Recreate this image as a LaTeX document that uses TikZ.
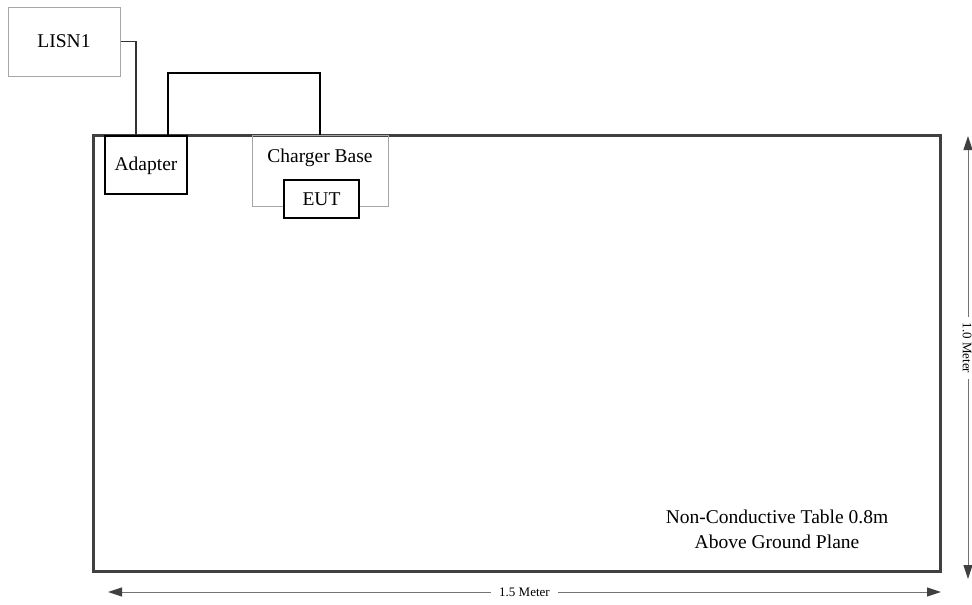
\documentclass[tikz,border=0pt]{standalone}
\usepackage{fontspec}
\setmainfont{Liberation Serif}
\usetikzlibrary{arrows.meta}
\begin{document}
\begin{tikzpicture}[x=1pt,y=-1pt,
  thinbox/.style={draw=gray!70,line width=1pt,rectangle,inner sep=0pt},
  blkbox/.style={draw=black,line width=1.4pt,rectangle,inner sep=0pt,fill=white},
  lbl/.style={font=\fontsize{19.5}{23}\selectfont,inner sep=0pt},
  wire/.style={draw=black!80,line width=1.6pt},
  wire2/.style={draw=black,line width=1.1pt},
  dimarr/.style={draw=black!55,line width=1pt,{Triangle[length=14pt,width=9pt,color=black!75]}-{Triangle[length=14pt,width=9pt,color=black!75]}},
  dimlbl/.style={font=\fontsize{13}{15}\selectfont,fill=white,inner xsep=8pt,inner ysep=2pt}]
\useasboundingbox (0,0) rectangle (972,605);
\fill[white] (0,0) rectangle (972,605);
% table
\node[rectangle,draw=black!75,line width=3pt,minimum width=847pt,minimum height=436pt,inner sep=0pt] (table) at (516.5,353) {};
% LISN
\node[thinbox,minimum width=112pt,minimum height=69pt] (lisn) at (64,41.5) {};
\node[lbl] (lisntxt) at (64,41.5) {LISN1};
% adapter
\node[blkbox,minimum width=82pt,minimum height=58pt] (adapter) at (146,165) {};
\node[lbl] (adaptxt) at (146,166) {Adapter};
% charger base
\node[thinbox,minimum width=136pt,minimum height=71pt] (base) at (320,170.5) {};
\node[lbl] (basetxt) at (320,158) {Charger Base};
% EUT
\node[blkbox,minimum width=75pt,minimum height=38pt] (eut) at (321.5,199) {};
\node[lbl] (euttxt) at (321.5,199) {EUT};
% connectors
\coordinate (c1) at (136,135);
\coordinate (c2) at (168,135);
\coordinate (c3) at (320,73);
\draw[wire] (lisn.east) -| (c1);
\draw[wire2] (c2) |- (c3) -- (base.north);
% table text
\node[lbl,align=center] (tabletxt) at (777,529) {Non-Conductive Table 0.8m\\[2pt]Above Ground Plane};
% dimensions
\coordinate (h1) at (108,592);
\coordinate (h2) at (941,592);
\draw[dimarr] (h1) -- node[dimlbl] (hlbl) {1.5 Meter} (h2);
\coordinate (v1) at (968,136);
\coordinate (v2) at (968,579);
\draw[dimarr] (v1) -- (v2);
\node[dimlbl,rotate=-90,inner xsep=6pt,inner ysep=1pt] (vlbl) at (967,348) {1.0 Meter};
\end{tikzpicture}
\end{document}
